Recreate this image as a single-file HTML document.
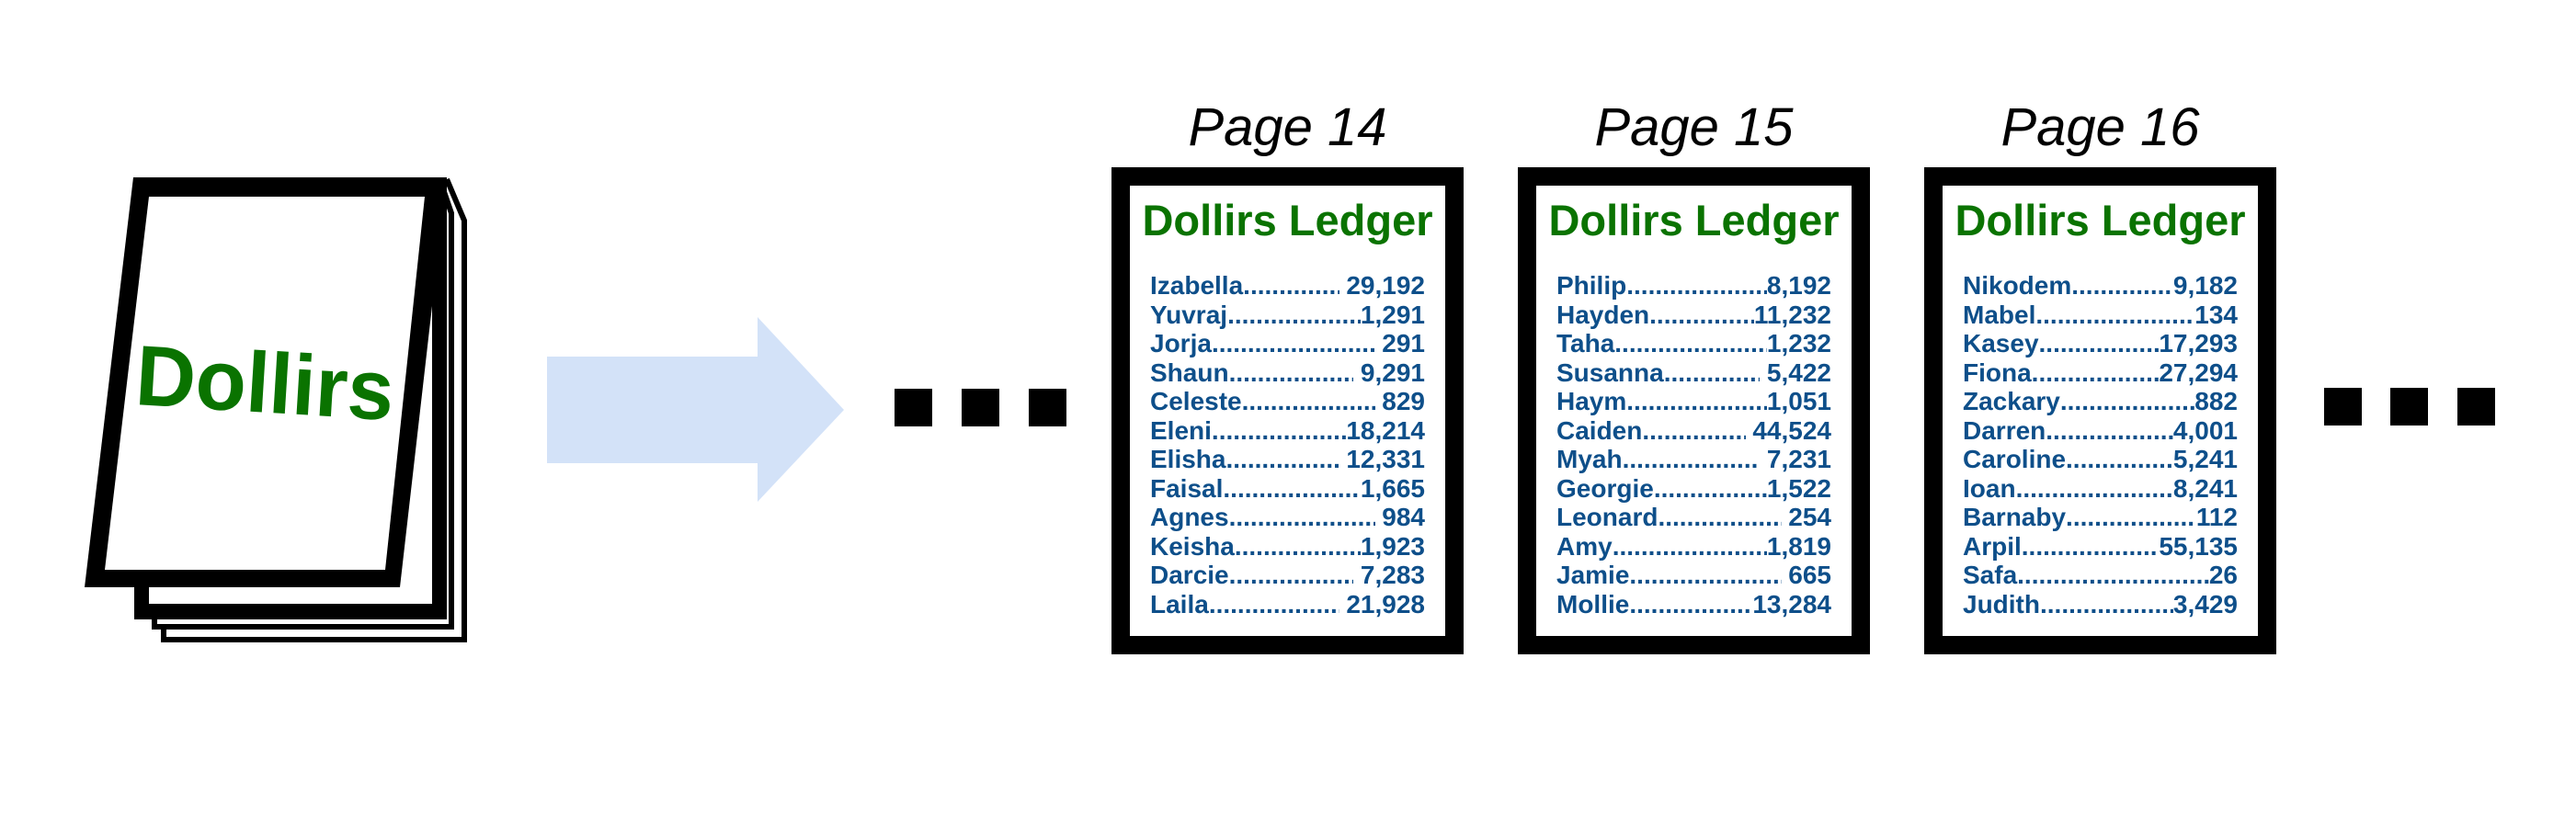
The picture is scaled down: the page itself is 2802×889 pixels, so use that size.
<!DOCTYPE html>
<html><head><meta charset="utf-8"><style>
html,body{margin:0;padding:0;background:#fff;}
body{width:2802px;height:889px;position:relative;overflow:hidden;font-family:"Liberation Sans",sans-serif;}
.title{position:absolute;top:105px;width:383px;text-align:center;font-style:italic;font-size:58px;color:#000;}
.box{position:absolute;top:182px;width:343px;height:490px;border:20px solid #000;background:#fff;}
.ledger{position:absolute;top:10px;left:0;width:343px;text-align:center;font-weight:bold;font-size:47px;color:#0a7300;white-space:nowrap;}
.rows{position:absolute;left:22px;top:93px;width:299px;}
.r{display:flex;height:31.5px;line-height:31.5px;font-weight:bold;font-size:28px;color:#0e4f8a;white-space:nowrap;}
.r .d{flex:1;overflow:hidden;}
.r .d::before{content:"...................................................";}
.dot{position:absolute;width:41px;height:41px;background:#000;}
</style></head><body>
<svg width="2802" height="889" style="position:absolute;left:0;top:0">
  <path d="M178,640 L178,696 L505,696 L505,240 L486,195" fill="#fff" stroke="#000" stroke-width="6"/>
  <path d="M168,640 L168,682 L491,682 L491,232 L480,200" fill="#fff" stroke="#000" stroke-width="6"/>
  <rect x="146" y="193" width="340" height="481" fill="#000"/>
  <rect x="162" y="214" width="308" height="443" fill="#fff"/>
  <polygon points="145,193 486,193 435,639 92,639" fill="#000"/>
  <polygon points="162,214 462,214 419,620 114,620" fill="#fff"/>
  <text x="0" y="0" transform="translate(146,440) rotate(3.5)" font-family="Liberation Sans, sans-serif" font-weight="bold" font-size="93" fill="#0a7300" textLength="281" lengthAdjust="spacingAndGlyphs">Dollirs</text>
  <polygon points="595,388 824,388 824,345 918,446 824,546 824,504 595,504" fill="#d3e2f8"/>
</svg>
<div class="dot" style="left:973px;top:423px"></div>
<div class="dot" style="left:1046px;top:423px"></div>
<div class="dot" style="left:1119px;top:423px"></div>
<div class="dot" style="left:2528px;top:422px"></div>
<div class="dot" style="left:2600px;top:422px"></div>
<div class="dot" style="left:2673px;top:422px"></div>

<div class="title" style="left:1209px">Page 14</div>
<div class="box" style="left:1209px">
<div class="ledger">Dollirs Ledger</div>
<div class="rows">
<div class="r"><span>Izabella</span><span class="d"></span><span>&nbsp;29,192</span></div>
<div class="r"><span>Yuvraj</span><span class="d"></span><span>1,291</span></div>
<div class="r"><span>Jorja</span><span class="d"></span><span>&nbsp;291</span></div>
<div class="r"><span>Shaun</span><span class="d"></span><span>&nbsp;9,291</span></div>
<div class="r"><span>Celeste</span><span class="d"></span><span>&nbsp;829</span></div>
<div class="r"><span>Eleni</span><span class="d"></span><span>18,214</span></div>
<div class="r"><span>Elisha</span><span class="d"></span><span>&nbsp;12,331</span></div>
<div class="r"><span>Faisal</span><span class="d"></span><span>1,665</span></div>
<div class="r"><span>Agnes</span><span class="d"></span><span>&nbsp;984</span></div>
<div class="r"><span>Keisha</span><span class="d"></span><span>1,923</span></div>
<div class="r"><span>Darcie</span><span class="d"></span><span>&nbsp;7,283</span></div>
<div class="r"><span>Laila</span><span class="d"></span><span>&nbsp;21,928</span></div>
</div></div>

<div class="title" style="left:1651px">Page 15</div>
<div class="box" style="left:1651px">
<div class="ledger">Dollirs Ledger</div>
<div class="rows">
<div class="r"><span>Philip</span><span class="d"></span><span>8,192</span></div>
<div class="r"><span>Hayden</span><span class="d"></span><span>11,232</span></div>
<div class="r"><span>Taha</span><span class="d"></span><span>1,232</span></div>
<div class="r"><span>Susanna</span><span class="d"></span><span>&nbsp;5,422</span></div>
<div class="r"><span>Haym</span><span class="d"></span><span>1,051</span></div>
<div class="r"><span>Caiden</span><span class="d"></span><span>&nbsp;44,524</span></div>
<div class="r"><span>Myah</span><span class="d"></span><span>&nbsp;7,231</span></div>
<div class="r"><span>Georgie</span><span class="d"></span><span>1,522</span></div>
<div class="r"><span>Leonard</span><span class="d"></span><span>&nbsp;254</span></div>
<div class="r"><span>Amy</span><span class="d"></span><span>1,819</span></div>
<div class="r"><span>Jamie</span><span class="d"></span><span>&nbsp;665</span></div>
<div class="r"><span>Mollie</span><span class="d"></span><span>13,284</span></div>
</div></div>

<div class="title" style="left:2093px">Page 16</div>
<div class="box" style="left:2093px">
<div class="ledger">Dollirs Ledger</div>
<div class="rows">
<div class="r"><span>Nikodem</span><span class="d"></span><span>9,182</span></div>
<div class="r"><span>Mabel</span><span class="d"></span><span>134</span></div>
<div class="r"><span>Kasey</span><span class="d"></span><span>17,293</span></div>
<div class="r"><span>Fiona</span><span class="d"></span><span>27,294</span></div>
<div class="r"><span>Zackary</span><span class="d"></span><span>882</span></div>
<div class="r"><span>Darren</span><span class="d"></span><span>4,001</span></div>
<div class="r"><span>Caroline</span><span class="d"></span><span>5,241</span></div>
<div class="r"><span>Ioan</span><span class="d"></span><span>8,241</span></div>
<div class="r"><span>Barnaby</span><span class="d"></span><span>112</span></div>
<div class="r"><span>Arpil</span><span class="d"></span><span>55,135</span></div>
<div class="r"><span>Safa</span><span class="d"></span><span>26</span></div>
<div class="r"><span>Judith</span><span class="d"></span><span>3,429</span></div>
</div></div>
</body></html>
